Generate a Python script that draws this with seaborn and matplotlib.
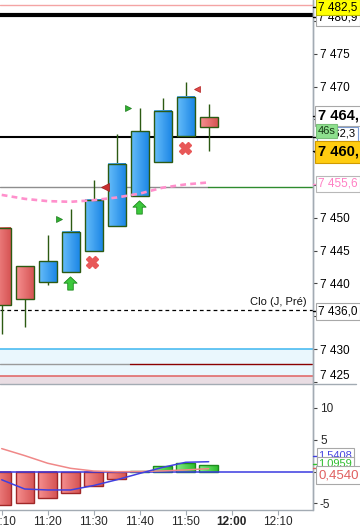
import numpy as np
import pandas as pd
import matplotlib
matplotlib.use("Agg")
import matplotlib.pyplot as plt
import seaborn as sns
from matplotlib.path import Path
from matplotlib.patches import Rectangle
from matplotlib.lines import Line2D
from matplotlib.colors import LinearSegmentedColormap

# ---------------- data ----------------
times = ["11:10", "11:15", "11:20", "11:25", "11:30", "11:35", "11:40", "11:45", "11:50", "11:55"]
minutes = [10, 15, 20, 25, 30, 35, 40, 45, 50, 55]
opens = [7448.5, 7442.6, 7440.2, 7441.8, 7444.9, 7448.7, 7453.4, 7458.5, 7462.4, 7465.3]
closes = [7436.7, 7437.7, 7443.4, 7447.9, 7452.7, 7458.2, 7463.3, 7466.3, 7468.4, 7463.8]
highs = [7448.5, 7442.6, 7447.4, 7451.3, 7455.8, 7462.8, 7466.7, 7468.2, 7470.7, 7467.3]
lows = [7432.3, 7433.3, 7439.7, 7441.8, 7444.9, 7448.7, 7453.4, 7458.5, 7462.4, 7460.2]
ma_values = [7453.5, 7452.9, 7452.55, 7452.45, 7452.7, 7453.1, 7453.7, 7454.6, 7455.1, 7455.4]

hist_values = [-5.3, -5.0, -4.2, -3.3, -2.3, -1.1, 0.15, 0.8, 1.35, 1.05]
macd_values = [-1.3, -2.75, -2.9, -2.9, -2.2, -1.3, -0.3, 0.65, 1.45, 1.54]
signal_values = [3.6, 2.5, 1.3, 0.5, 0.08, -0.03, 0.0, 0.1, 0.25, 0.45]

levels = {"high_prev": 7482.5, "res": 7480.9, "last": 7462.3, "pivot": 7454.7,
          "close_prev": 7436.0, "band_top": 7430.0, "band_mid": 7427.8, "band_low": 7425.9}

tri_right_t = [22.5, 37.5]
tri_right_p = [7449.8, 7466.7]
tri_left_t = [52.4]
tri_left_p = [7469.7]
dot_t = [32.5]
dot_p = [7454.7]
cross_t = [29.7, 49.9]
cross_p = [7443.25, 7460.6]
arrow_t = [24.85, 39.9]
arrow_p = [7440.15, 7451.7]

xtick_vals = [10, 20, 30, 40, 50, 60, 70]
xtick_labels = ["11:10", "11:20", "11:30", "11:40", "11:50", "12:00", "12:10"]

# ---------------- style ----------------
sns.set_theme(style="white")
plt.rcParams["font.family"] = ["Liberation Sans", "DejaVu Sans"]
plt.rcParams["axes.unicode_minus"] = False

W, H = 360, 528
fig = plt.figure(figsize=(3.6, 5.28), dpi=100)
fig.patch.set_facecolor("white")


def fx(x):
    return x / W


def fy(y):
    return 1 - y / H


AX_R = 312.5
ax1 = fig.add_axes([0, fy(383.5), AX_R / W, 383.5 / H])
ax2 = fig.add_axes([0, fy(510), AX_R / W, (510 - 385) / H])

XL = (9.63, 77.57)
Y1 = (7424.76, 7483.2)
Y2 = (-6.05, 13.6)
grey = "#A3ABB3"

blue_cm = LinearSegmentedColormap.from_list("b", ["#66BDF9", "#1C86E6"])
red_cm = LinearSegmentedColormap.from_list("r", ["#F69090", "#D65454"])
green_cm = LinearSegmentedColormap.from_list("g", ["#86EC86", "#2EBE2E"])
grad = np.linspace(0, 1, 64).reshape(1, -1)
bw = 1.95

# ---------------- main panel ----------------
ax1.axhspan(levels["band_low"], levels["band_top"], color="#EAF7FD", lw=0, zorder=0)
ax1.axhspan(Y1[0], levels["band_low"], color="#E9DDE3", lw=0, zorder=0)
ax1.axhline(levels["band_top"], color="#3DB6F0", lw=1.1, zorder=1)
ax1.axhline(levels["band_low"], color="#E06060", lw=1.1, zorder=1)
ax1.plot([XL[0], 37.8], [levels["band_mid"]] * 2, color="#9A9A9A", lw=1.0, zorder=1)
ax1.plot([37.8, XL[1]], [levels["band_mid"]] * 2, color="#8B0000", lw=1.0, zorder=1)
ax1.axhline(levels["high_prev"], color="#F4A4A4", lw=1.0, zorder=1)
ax1.axhline(levels["res"], color="black", lw=3.0, zorder=1)
ax1.axhline(levels["last"], color="black", lw=1.5, zorder=1)
ax1.plot([XL[0], 54.85], [levels["pivot"]] * 2, color="#8E8E8E", lw=1.0, zorder=1)
ax1.plot([54.85, XL[1]], [levels["pivot"]] * 2, color="#2E8B2E", lw=1.0, zorder=1)
ax1.axhline(levels["close_prev"], color="black", lw=0.9, ls=(0, (3, 2.5)), zorder=1)

# candles
ax1.vlines(minutes, lows, highs, color="#2C5A12", lw=1.0, zorder=2)
for t, o, c in zip(minutes, opens, closes):
    y0, y1 = min(o, c), max(o, c)
    cm = blue_cm if c >= o else red_cm
    ax1.imshow(grad, extent=[t - bw, t + bw, y0, y1], aspect="auto", cmap=cm,
               interpolation="bilinear", zorder=3)
    ax1.add_patch(Rectangle((t - bw, y0), 2 * bw, y1 - y0, fill=False,
                            ec="#2C5A12", lw=1.0, zorder=4))

# moving average
ma_df = pd.DataFrame({"t": minutes, "ma": ma_values})
sns.lineplot(data=ma_df, x="t", y="ma", ax=ax1, color="#FF90CC", lw=1.9,
             ls=(0, (2.2, 1.6)), zorder=5, legend=False)

# markers
arrow_path = Path([(0, 1), (1, 0.05), (0.42, 0.05), (0.42, -1), (-0.42, -1),
                   (-0.42, 0.05), (-1, 0.05), (0, 1)], closed=True)
ax1.plot(arrow_t, arrow_p, ls="none", marker=arrow_path, ms=9.5,
         mfc="#3CC83C", mec="#1E8A1E", mew=0.6, zorder=6)
ax1.plot(cross_t, cross_p, ls="none", marker="X", ms=8, mfc="#E85858",
         mec="#E85858", zorder=6)
ax1.plot(tri_right_t, tri_right_p, ls="none", marker=">", ms=4.5,
         mfc="#2FB02F", mec="#1E7A1E", mew=0.5, zorder=6)
ax1.plot(tri_left_t, tri_left_p, ls="none", marker="<", ms=4.5,
         mfc="#E04848", mec="#B02020", mew=0.5, zorder=6)
ax1.plot(dot_t, dot_p, ls="none", marker="<", ms=5.5,
         mfc="#C83030", mec="#A02020", mew=0.5, zorder=6)

ax1.text(76.2, levels["close_prev"] + 0.45, "Clo (J, Pré)", fontsize=8,
         ha="right", va="bottom", color="#111111", zorder=7)

ax1.set_xlim(*XL)
ax1.set_ylim(*Y1)
ax1.set_xticks([])
yt = list(range(7425, 7481, 5))
hidden = {7425, 7435, 7455, 7460, 7465, 7480}
ax1.yaxis.tick_right()
ax1.set_yticks(yt)
ax1.set_yticklabels(["" if v in hidden else f"{v // 1000} {v % 1000:03d}" for v in yt])
ax1.tick_params(axis="y", direction="out", length=3.2, width=0.8, color="#444444",
                labelsize=8.5, pad=2.2, labelcolor="black", right=True, left=False)
for s in ["top", "left", "bottom"]:
    ax1.spines[s].set_visible(False)
ax1.spines["right"].set_color(grey)
ax1.spines["right"].set_linewidth(1.0)

# ---------------- lower panel ----------------
for t, v in zip(minutes, hist_values):
    cm = green_cm if v >= 0 else red_cm
    ec = "#1E8C1E" if v >= 0 else "#A02828"
    y0, y1 = min(0, v), max(0, v)
    ax2.imshow(grad, extent=[t - 2.0, t + 2.0, y0, y1], aspect="auto", cmap=cm,
               interpolation="bilinear", zorder=3)
    ax2.add_patch(Rectangle((t - 2.0, y0), 4.0, y1 - y0, fill=False, ec=ec,
                            lw=1.0, zorder=4))

ax2.axhline(0, color="#3A3AE0", lw=1.1, zorder=5)
osc_df = pd.DataFrame({"t": minutes, "macd": macd_values, "signal": signal_values})
sns.lineplot(data=osc_df, x="t", y="signal", ax=ax2, color="#F08888", lw=1.1,
             zorder=6, legend=False)
sns.lineplot(data=osc_df, x="t", y="macd", ax=ax2, color="#4040E0", lw=1.1,
             zorder=6, legend=False)

ax2.set_xlim(*XL)
ax2.set_ylim(*Y2)
ax2.set_xlabel("")
ax2.set_ylabel("")
ax1.set_xlabel("")
ax1.set_ylabel("")
ax2.yaxis.tick_right()
ax2.set_yticks([-5, 0, 5, 10])
ax2.set_yticklabels(["-5", "", "5", "10"])
ax2.set_xticks(xtick_vals)
ax2.set_xticklabels(xtick_labels)
for lab in ax2.get_xticklabels():
    if lab.get_text() == "12:00":
        lab.set_fontweight("bold")
        lab.set_fontsize(10)
ax2.tick_params(axis="y", direction="out", length=3.2, width=0.8, color="#444444",
                labelsize=8.5, pad=2.2, right=True, left=False)
ax2.tick_params(axis="x", direction="out", length=3.5, width=0.8, color=grey,
                labelsize=8.5, pad=0.8, bottom=True)
for s in ["top", "left"]:
    ax2.spines[s].set_visible(False)
for s in ["right", "bottom"]:
    ax2.spines[s].set_color(grey)
    ax2.spines[s].set_linewidth(1.0)

# ---------------- figure-level decorations ----------------
fig.add_artist(Line2D([fx(AX_R), fx(AX_R)], [fy(0), fy(510)], color=grey, lw=1.0))
fig.add_artist(Line2D([0, fx(356)], [fy(384), fy(384)], color=grey, lw=1.0))


def tag(y, text, fc="white", ec="#A8A8A8", color="black", size=8.5, weight="normal",
        x=318.5, pad=0.18):
    fig.text(fx(x), fy(y), text, fontsize=size, fontweight=weight, color=color,
             ha="left", va="center",
             bbox=dict(boxstyle=f"square,pad={pad}", fc=fc, ec=ec, lw=0.8))


def mark(y, color="black"):
    fig.add_artist(Line2D([fx(AX_R), fx(AX_R + 4)], [fy(y), fy(y)], color=color, lw=1.0))


for yy in [7, 17, 116, 137, 151, 311]:
    mark(yy)
mark(184, "#FF90CC")

tag(17.5, "7 480,9")
tag(7, "7 482,5", fc="#FFFF00", ec="#B8B800")
tag(116, "7 464,", size=10.5, weight="bold", pad=0.22)
tag(134, "7 462,3", ec="#7A9AD0", size=8)
tag(130.5, "46s", fc="#8EE08E", ec="#7AC07A", color="#173817", size=8, x=317.5)
tag(152, "7 460,", fc="#FFCC10", ec="#D09A00", size=10.5, weight="bold", pad=0.25)
tag(184, "7 455,6", color="#FF80C4", ec="#B8B8B8")
tag(311.5, "7 436,0")
fig.text(fx(319.5), fy(376), "7 425", fontsize=8.5, ha="left", va="center", color="black")

mark(456, "#4040E0")
mark(463.5, "#30C030")
mark(468, "#E06060")
tag(455, "1,5408", color="#4848E0", size=8)
tag(463.5, "1,0959", color="#2FBE2F", size=8)
tag(475, "0,4540", color="#E06060", size=9.5, pad=0.22)

fig.savefig("out.png", dpi=100, facecolor="white")
